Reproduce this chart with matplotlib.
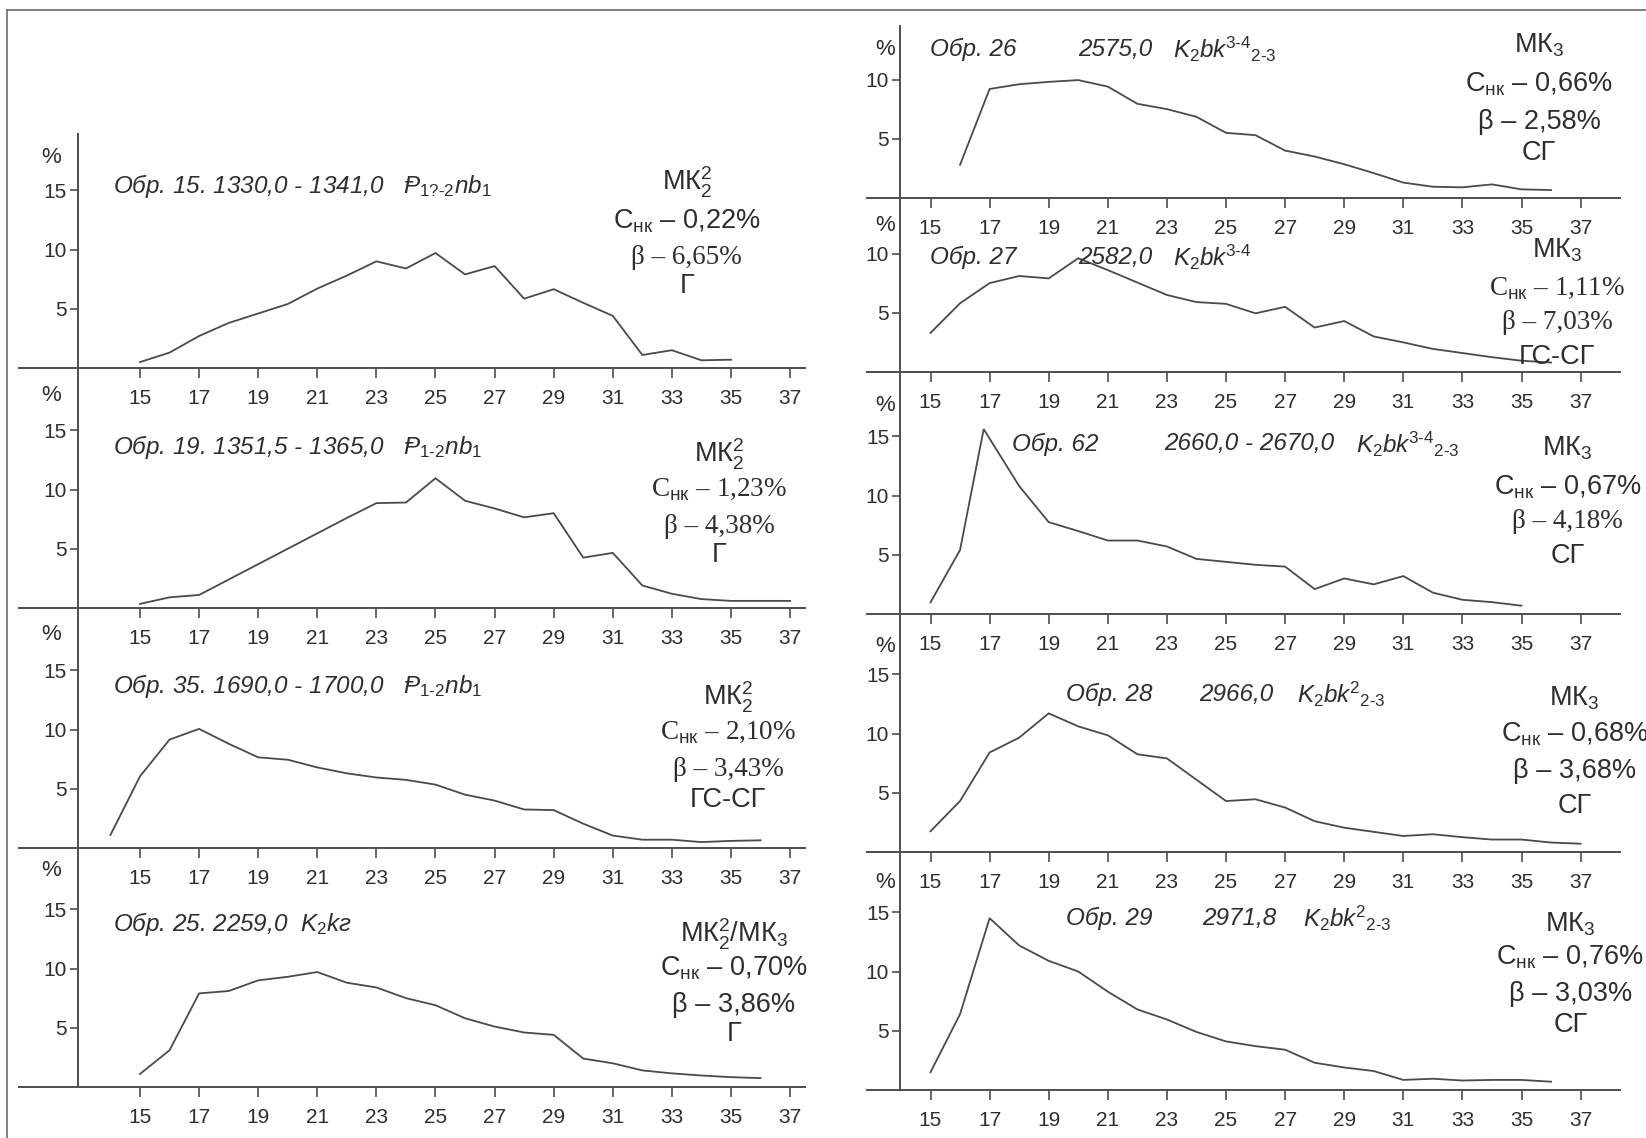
import matplotlib
matplotlib.use("Agg")
import matplotlib.pyplot as plt
from matplotlib import font_manager as fm
from matplotlib.lines import Line2D

# ---------------- data ----------------
x_ticks = [15, 17, 19, 21, 23, 25, 27, 29, 31, 33, 35, 37]

obr15_x = list(range(15, 36))
obr15_y = [0.5, 1.3, 2.7, 3.8, 4.6, 5.4, 6.7, 7.8, 9.0, 8.4, 9.7, 7.9, 8.6, 5.85, 6.65,
           5.5, 4.4, 1.1, 1.5, 0.65, 0.7]

obr19_x = list(range(15, 38))
obr19_y = [0.35, 0.9, 1.1, 2.4, 3.7, 5.0, 6.3, 7.6, 8.85, 8.9, 10.95, 9.05, 8.4, 7.65, 8.0,
           4.25, 4.65, 1.9, 1.2, 0.75, 0.6, 0.6, 0.6]

obr35_x = list(range(14, 37))
obr35_y = [1.1, 6.05, 9.15, 10.05, 8.8, 7.65, 7.45, 6.8, 6.3, 5.95, 5.75, 5.35, 4.5, 4.0,
           3.25, 3.2, 2.05, 1.05, 0.7, 0.7, 0.5, 0.6, 0.65]

obr25_x = list(range(15, 37))
obr25_y = [1.1, 3.1, 7.9, 8.1, 9.0, 9.3, 9.7, 8.8, 8.4, 7.5, 6.9, 5.8, 5.1, 4.6, 4.4,
           2.4, 2.0, 1.4, 1.15, 0.97, 0.83, 0.75]

obr26_x = list(range(16, 37))
obr26_y = [2.8, 9.2, 9.6, 9.8, 9.95, 9.4, 7.95, 7.5, 6.85, 5.5, 5.3, 4.0, 3.5, 2.85, 2.1,
           1.3, 0.95, 0.9, 1.15, 0.73, 0.67]

obr27_x = list(range(15, 37))
obr27_y = [3.3, 5.8, 7.5, 8.1, 7.9, 9.6, 8.6, 7.55, 6.5, 5.9, 5.75, 4.95, 5.5, 3.75, 4.3,
           3.0, 2.5, 1.95, 1.6, 1.25, 0.95, 0.8]

obr62_x = [15, 16, 16.8, 18, 19, 20, 21, 22, 23, 24, 25, 26, 27, 28, 29, 30, 31, 32, 33, 34, 35]
obr62_y = [0.98, 5.4, 15.6, 10.8, 7.75, 7.0, 6.2, 6.2, 5.7, 4.65, 4.4, 4.15, 4.0, 2.1, 3.0,
           2.5, 3.2, 1.8, 1.2, 1.0, 0.7]

obr28_x = list(range(15, 38))
obr28_y = [1.75, 4.3, 8.4, 9.65, 11.7, 10.6, 9.85, 8.25, 7.9, 6.1, 4.3, 4.45, 3.75, 2.6,
           2.05, 1.7, 1.35, 1.5, 1.25, 1.05, 1.05, 0.8, 0.7]

obr29_x = list(range(15, 37))
obr29_y = [1.5, 6.4, 14.5, 12.2, 10.9, 10.0, 8.3, 6.8, 5.95, 4.9, 4.1, 3.7, 3.4, 2.3, 1.9,
           1.6, 0.85, 0.95, 0.8, 0.85, 0.85, 0.7]

# ---------------- fonts ----------------
available = {f.name for f in fm.fontManager.ttflist}


def fams(*names):
    out = [n for n in names if n in available]
    return out or ["DejaVu Sans"]


SANS = fams("Liberation Sans", "DejaVu Sans")
NARROW = fams("Liberation Sans Narrow", "Liberation Sans", "DejaVu Sans")
SERIF = fams("Liberation Serif", "DejaVu Serif", "DejaVu Sans")

plt.rcParams["font.family"] = SANS
plt.rcParams["mathtext.fontset"] = "custom"
plt.rcParams["mathtext.rm"] = SANS[0]
plt.rcParams["mathtext.it"] = SANS[0] + ":italic"
plt.rcParams["mathtext.bf"] = SANS[0] + ":bold"
plt.rcParams["mathtext.default"] = "rm"

LINE = "#4a4a4a"
AXC = "#4d4d4d"
TXT = "#2e2e2e"

W, H = 1646, 1138
fig = plt.figure(figsize=(W / 100, H / 100), dpi=100)
fig.patch.set_facecolor("white")

UX = 29.55   # px per x unit
UY = 11.85   # px per % unit
L_X15 = 140.0
R_X15 = 930.5


def add_panel(col, top, bottom, xs, ys, yticks, pct_xy, title_pieces, title_y,
              block, block_x, block_ys, block_serif):
    if col == "L":
        x15, xlo, xhi, yax = L_X15, 10.9, 37.5, 12.9
    else:
        x15, xlo, xhi, yax = R_X15, 12.85, 38.35, 13.98
    left = x15 + (xlo - 15) * UX
    right = x15 + (xhi - 15) * UX
    ymax = (bottom - top) / UY
    ax = fig.add_axes([left / W, 1 - bottom / H, (right - left) / W, (bottom - top) / H])
    ax.patch.set_visible(False)
    ax.set_xlim(xlo, xhi)
    ax.set_ylim(0, ymax)
    for s in ("top", "right"):
        ax.spines[s].set_visible(False)
    ax.spines["left"].set_position(("data", yax))
    ax.spines["bottom"].set_position(("data", 0))
    for s in ("left", "bottom"):
        ax.spines[s].set_color(AXC)
        ax.spines[s].set_linewidth(1.4)
    ax.set_xticks(x_ticks)
    ax.set_xticklabels([str(t) for t in x_ticks])
    ax.set_yticks(yticks)
    ax.set_yticklabels([str(t) for t in yticks])
    ax.tick_params(axis="x", direction="out", length=7, width=1.2, pad=8,
                   labelsize=15, color=AXC, labelcolor=TXT)
    ax.tick_params(axis="y", direction="out", length=6, width=1.2, pad=2,
                   labelsize=15, color=AXC, labelcolor=TXT)
    ax.plot(xs, ys, color=LINE, lw=1.3, solid_joinstyle="miter", clip_on=False)
    ax.text(pct_xy[0], pct_xy[1], "%", fontsize=16, ha="center", va="center", color=TXT)
    for px, s in title_pieces:
        ax.text(px, title_y, s, fontsize=17.5, style="italic", ha="left", va="center",
                color=TXT)
    for line, by, serif in zip(block, block_ys, block_serif):
        ax.text(block_x, by, line, fontsize=19.5, ha="center", va="center", color=TXT,
                family=SERIF if serif else NARROW)
    return ax


MK22 = r"МК$_2^2$"
MK3 = r"МК$_3$"
CNK = r"С$_{нк}$"
PG = "Ᵽ"  # Paleogene symbol (P with stroke)

# left column
add_panel("L", 134, 368, obr15_x, obr15_y, [5, 10, 15], (12.0, 17.8),
          [(14.1, "Обр. 15. 1330,0 - 1341,0   " + PG + r"$_{\mathit{1?‐2}}$nb$_{\mathit{1}}$")],
          15.4,
          [MK22, CNK + " – 0,22%", "β – 6,65%", "Г"], 33.5, [15.7, 12.4, 9.3, 6.9],
          [False, False, True, False])
add_panel("L", 368, 608, obr19_x, obr19_y, [5, 10, 15], (12.0, 17.9),
          [(14.1, "Обр. 19. 1351,5 - 1365,0   " + PG + r"$_{\mathit{1‐2}}$nb$_{\mathit{1}}$")],
          13.6,
          [MK22, CNK + " – 1,23%", "β – 4,38%", "Г"], 34.6, [13.0, 10.0, 6.9, 4.5],
          [False, True, True, False])
add_panel("L", 608, 848, obr35_x, obr35_y, [5, 10, 15], (12.0, 18.0),
          [(14.1, "Обр. 35. 1690,0 - 1700,0   " + PG + r"$_{\mathit{1‐2}}$nb$_{\mathit{1}}$")],
          13.7,
          [MK22, CNK + " – 2,10%", "β – 3,43%", "ГС-СГ"], 34.9, [12.7, 9.75, 6.6, 4.05],
          [False, True, True, False])
add_panel("L", 848, 1087, obr25_x, obr25_y, [5, 10, 15], (12.0, 18.3),
          [(14.1, r"Обр. 25. 2259,0  K$_{\mathit{2}}$kг")], 13.75,
          [MK22 + "/" + MK3, CNK + " – 0,70%", "β – 3,86%", "Г"], 35.1,
          [12.9, 10.0, 6.9, 4.5],
          [False, False, False, False])

# right column
add_panel("R", 26, 198, obr26_x, obr26_y, [5, 10], (13.46, 12.5),
          [(15.0, "Обр. 26"), (20.0, "2575,0"),
           (23.2, r"K$_{\mathit{2}}$bk$^{\mathit{3‐4}}{}_{\mathit{2‐3}}$")], 12.55,
          [MK3, CNK + " – 0,66%", "β – 2,58%", "СГ"], 35.6, [12.9, 9.6, 6.45, 3.8],
          [False, False, False, False])
add_panel("R", 198, 372, obr27_x, obr27_y, [5, 10], (13.46, 12.4),
          [(15.0, "Обр. 27"), (20.0, "2582,0"),
           (23.2, r"K$_{\mathit{2}}$bk$^{\mathit{3‐4}}$")], 9.7,
          [MK3, CNK + " – 1,11%", "β – 7,03%", "ГС-СГ"], 36.2, [10.3, 7.1, 4.2, 1.3],
          [False, True, True, False])
add_panel("R", 372, 614, obr62_x, obr62_y, [5, 10, 15], (13.46, 17.6),
          [(17.75, "Обр. 62"), (22.9, "2660,0 - 2670,0"),
           (29.4, r"K$_{\mathit{2}}$bk$^{\mathit{3‐4}}{}_{\mathit{2‐3}}$")], 14.35,
          [MK3, CNK + " – 0,67%", "β – 4,18%", "СГ"], 36.55, [14.0, 10.7, 7.8, 4.9],
          [False, False, True, False])
add_panel("R", 614, 852, obr28_x, obr28_y, [5, 10, 15], (13.46, 17.3),
          [(19.6, "Обр. 28"), (24.1, "2966,0"),
           (27.4, r"K$_{\mathit{2}}$bk$^{\mathit{2}}{}_{\mathit{2‐3}}$")], 13.3,
          [MK3, CNK + " – 0,68%", "β – 3,68%", "СГ"], 36.8, [13.0, 9.9, 6.8, 3.9],
          [False, False, False, False])
add_panel("R", 852, 1090, obr29_x, obr29_y, [5, 10, 15], (13.46, 17.5),
          [(19.6, "Обр. 29"), (24.2, "2971,8"),
           (27.6, r"K$_{\mathit{2}}$bk$^{\mathit{2}}{}_{\mathit{2‐3}}$")], 14.47,
          [MK3, CNK + " – 0,76%", "β – 3,03%", "СГ"], 36.65, [14.0, 11.2, 8.1, 5.45],
          [False, False, False, False])

# outer frame lines (left and top)
fig.add_artist(Line2D([7 / W, 7 / W], [0, 1 - 10 / H], color="#6a6a6a", lw=1.2,
                      transform=fig.transFigure))
fig.add_artist(Line2D([7 / W, 1], [1 - 10 / H, 1 - 10 / H], color="#6a6a6a", lw=1.2,
                      transform=fig.transFigure))

fig.savefig("out.png", dpi=100, facecolor="white")
